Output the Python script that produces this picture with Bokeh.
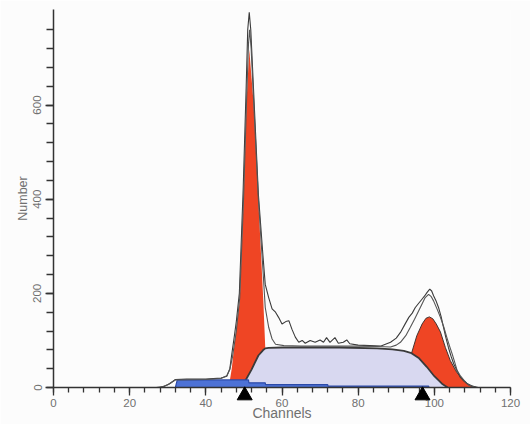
from bokeh.plotting import figure
from bokeh.models import Range1d, FixedTicker
from bokeh.embed import file_html
from bokeh.resources import INLINE

# ---- data (channel, number) ----
# G1 diploid peak (red)
g1_ch = [45.0, 45.8, 46.3, 46.8, 47.5, 48.0, 48.9, 49.9, 50.7, 51.4, 52.5, 53.8, 55.1, 55.6, 56.2, 57.0]
g1_n = [0, 10, 15, 40, 90, 125, 184, 396, 608, 718, 608, 396, 184, 85, 40, 0]

# G2 peak (red)
g2_ch = [91.0, 93.0, 94.1, 95.4, 96.8, 97.8, 98.7, 99.6, 100.5, 101.6, 102.9, 104.2, 105.9, 107.7, 109.4, 110.5]
g2_n = [0, 40, 75, 110, 135, 147, 150, 146, 135, 118, 85, 57, 32, 15, 4, 0]

# S phase (lavender)
s_ch = [48.5, 49.5, 50.4, 52.0, 53.8, 55.0, 55.6, 56.5, 60.0, 75.0, 85.0, 89.0, 92.0, 94.0, 96.0, 98.0, 100.0, 102.0, 103.5]
s_n = [0, 5, 15, 38, 68, 79, 83, 84, 85, 85, 83, 81, 78, 73, 62, 44, 24, 8, 0]

# debris / aggregates (blue)
d_ch = [32.0, 32.5, 51.2, 51.3, 55.6, 55.7, 72.0, 72.1, 98.5, 98.6]
d_n = [0, 16, 16, 10, 10, 6, 6, 3, 3, 0]

# raw histogram (outer wiggly line)
raw_ch = [27, 29, 30.5, 32, 35, 40, 44, 45.5, 46.3, 46.8, 47.5, 48.0, 48.8, 49.8, 50.6, 51.0, 51.4, 51.8,
          52.6, 53.8, 55.0, 55.6, 56.5, 57.4, 58.3, 59.1, 60.0, 61.0, 61.8, 62.6, 63.5, 64.4, 65.3, 66.1,
          67.4, 68.7, 70.0, 70.9, 71.7, 72.6, 73.9, 74.8, 76.1, 77.0, 77.8, 80, 83, 86, 88.5, 90, 91.1,
          92.2, 93.3, 94.2, 95.0, 96.0, 96.8, 97.5, 98.1, 98.8, 99.3, 99.8, 100.4, 101.1, 101.8, 102.4,
          103.0, 103.7, 104.4, 105.1, 106.0, 106.8, 107.7, 108.6, 110, 111.5]
raw_n = [0, 2, 8, 17, 18, 18, 20, 24, 40, 70, 110, 140, 200, 420, 640, 760, 797, 760,
         620, 410, 280, 219, 191, 167, 160, 149, 135, 140, 142, 124, 107, 96, 100, 94,
         100, 96, 101, 96, 106, 96, 106, 94, 96, 101, 93, 90, 89, 88, 96, 105, 117,
         133, 149, 158, 170, 180, 188, 195, 202, 209, 205, 195, 185, 170, 150, 128,
         107, 85, 66, 50, 35, 22, 14, 8, 3, 0]

# model fit (inner line)
fit_ch = [28, 30, 32, 40, 44, 45.5, 46.3, 47, 48, 48.9, 49.9, 50.7, 51.2, 51.5, 51.9, 52.6, 53.8, 55.0,
          55.6, 56.5, 57.4, 58.3, 60.5, 65, 70, 75, 80, 85, 88.5, 90, 91.1, 92.5, 93.7, 94.8, 95.9,
          96.8, 97.6, 98.5, 99.2, 99.8, 100.7, 101.6, 102.5, 103.3, 104.0, 104.7, 105.3, 106.0, 106.9,
          107.8, 109, 111]
fit_n = [0, 6, 16, 17, 19, 25, 38, 65, 120, 190, 400, 610, 730, 760, 720, 600, 400, 250,
         170, 128, 103, 92, 89, 88, 88, 88, 88, 87, 86, 90, 96, 110, 128, 145, 163,
         178, 191, 198, 193, 184, 167, 149, 128, 106, 88, 71, 55, 36, 24,
         15, 5, 0]

# peak-mean markers
peak_means = [50.2, 96.9]

x_major = [0, 20, 40, 60, 80, 100, 120]
x_minor = list(range(0, 121, 4))
y_major = [0, 200, 400, 600]
y_minor = list(range(0, 761, 40))

BG = "#fcfcfc"
RED = "#ef4524"
LAV = "#d8d8f0"
BLUE = "#4d72d6"
DARK = "#3a3a3a"
TXT = "#707070"

p = figure(width=530, height=424, output_backend="svg", toolbar_location=None,
           x_range=Range1d(0, 120), y_range=Range1d(0, 803),
           min_border_left=53, min_border_right=20, min_border_top=9, min_border_bottom=37,
           background_fill_color=BG, border_fill_color=BG)
p.outline_line_color = None
p.xgrid.visible = False
p.ygrid.visible = False

# fills
p.varea(x=g1_ch, y1=0, y2=g1_n, fill_color=RED)
p.varea(x=g2_ch, y1=0, y2=g2_n, fill_color=RED)
p.line(g2_ch, g2_n, line_color="#443330", line_width=1)
p.varea(x=s_ch, y1=0, y2=s_n, fill_color=LAV)
p.line(s_ch, s_n, line_color=DARK, line_width=1.8)
p.varea(x=d_ch, y1=0, y2=d_n, fill_color=BLUE)
p.line(d_ch, d_n, line_color="#2c4aa8", line_width=1.2)

# envelope lines
p.line(raw_ch, raw_n, line_color=DARK, line_width=1.1)
p.line(fit_ch, fit_n, line_color="#555555", line_width=1.1)

# peak markers below the axis
r = p.scatter(x=peak_means, y=[-17, -17], marker="triangle", size=15,
              fill_color="black", line_color="black")
r.level = "overlay"

# axes
for ax in (p.xaxis[0], p.yaxis[0]):
    ax.axis_line_color = "#333333"
    ax.axis_line_width = 1.5
    ax.major_tick_line_color = "#333333"
    ax.minor_tick_line_color = "#333333"
    ax.major_tick_line_width = 1.3
    ax.minor_tick_line_width = 1.3
    ax.major_tick_in = 0
    ax.minor_tick_in = 0
    ax.major_label_text_color = TXT
    ax.major_label_text_font = "Liberation Sans"
    ax.axis_label_text_color = TXT
    ax.axis_label_text_font = "Liberation Sans"
    ax.axis_label_text_font_style = "normal"

xa = p.xaxis[0]
xa.ticker = FixedTicker(ticks=x_major, minor_ticks=x_minor)
xa.major_tick_out = 8
xa.minor_tick_out = 5
xa.major_label_text_font_size = "11.5px"
xa.major_label_standoff = 3
xa.axis_label = "Channels"
xa.axis_label_text_font_size = "14px"
xa.axis_label_standoff = -5

ya = p.yaxis[0]
ya.ticker = FixedTicker(ticks=y_major, minor_ticks=y_minor)
ya.major_tick_out = 8
ya.minor_tick_out = 7
ya.major_label_orientation = "vertical"
ya.major_label_text_font_size = "11.5px"
ya.major_label_standoff = 4
ya.axis_label = "Number"
ya.axis_label_text_font_size = "12.5px"
ya.axis_label_standoff = 1

open("out.html", "w").write(file_html(p, INLINE))
